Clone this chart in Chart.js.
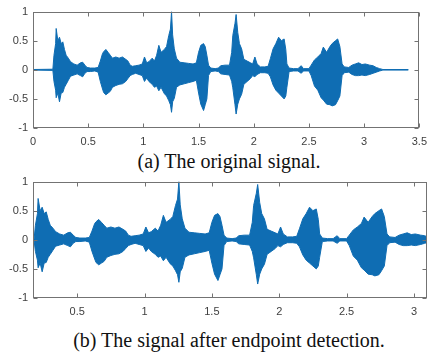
<!DOCTYPE html>
<html>
<head>
<meta charset="utf-8">
<script src="https://cdn.jsdelivr.net/npm/chart.js@4.4.1/dist/chart.umd.min.js"></script>
<style>
  html, body { margin:0; padding:0; background:#ffffff; }
  body { width:434px; height:354px; position:relative; overflow:hidden; }
  canvas { position:absolute; left:0; }
  .cap { position:absolute; left:0; width:458px; text-align:center;
         font-family:"Liberation Serif","Times New Roman",serif; font-size:20px; color:#111; line-height:22px; white-space:nowrap; }
</style>
</head>
<body>
<canvas id="c1" width="434" height="150" style="top:0px"></canvas>
<div class="cap" style="top:150px">(a) The original signal.</div>
<canvas id="c2" width="434" height="150" style="top:170px"></canvas>
<div class="cap" style="top:329px">(b) The signal after endpoint detection.</div>
<script>
// Time (s) of envelope samples
const times = [0, 0.18, 0.19, 0.205, 0.21, 0.225, 0.24, 0.255, 0.27, 0.285, 0.30, 0.32, 0.34, 0.37, 0.40, 0.43, 0.45, 0.47, 0.49, 0.52, 0.56, 0.59,
  0.61, 0.63, 0.64, 0.66, 0.68, 0.70, 0.72, 0.75, 0.78, 0.81, 0.84, 0.86, 0.88, 0.90, 0.93, 0.96, 0.99,
  1.01, 1.03, 1.05, 1.08, 1.10, 1.12, 1.14, 1.16, 1.19, 1.21, 1.23, 1.245, 1.255, 1.265, 1.28, 1.30, 1.33, 1.37, 1.41, 1.45, 1.48,
  1.50, 1.52, 1.545, 1.56, 1.575, 1.59, 1.61, 1.65, 1.68, 1.70, 1.74, 1.78, 1.80, 1.81, 1.83, 1.84, 1.855, 1.87, 1.89, 1.91, 1.94, 1.97, 1.99,
  2.01, 2.03, 2.06, 2.10, 2.13, 2.15, 2.175, 2.20, 2.225, 2.25, 2.275, 2.29, 2.30, 2.32, 2.36, 2.40, 2.43, 2.45, 2.50,
  2.52, 2.55, 2.58, 2.61, 2.63, 2.66, 2.69, 2.71, 2.74, 2.76, 2.78, 2.80, 2.82, 2.86, 2.89, 2.92, 2.95, 2.98,
  3.01, 3.05, 3.08, 3.11, 3.14, 3.17, 3.40];
// Upper envelope of the waveform
const upper = [0.005, 0.01, 0.25, 0.45, 0.71, 0.5, 0.56, 0.45, 0.48, 0.35, 0.25, 0.2, 0.14, 0.1, 0.08, 0.12, 0.13, 0.08, 0.04, 0.03, 0.03, 0.04,
  0.15, 0.28, 0.31, 0.35, 0.3, 0.25, 0.2, 0.22, 0.2, 0.22, 0.18, 0.15, 0.08, 0.06, 0.07, 0.08, 0.1,
  0.22, 0.12, 0.14, 0.2, 0.15, 0.25, 0.42, 0.3, 0.35, 0.4, 0.59, 0.7, 1.0, 0.6, 0.36, 0.2, 0.13, 0.12, 0.11, 0.1, 0.12,
  0.3, 0.42, 0.45, 0.4, 0.25, 0.08, 0.03, 0.02, 0.03, 0.07, 0.08, 0.08, 0.3, 0.59, 0.8, 0.95, 0.64, 0.45, 0.36, 0.18, 0.15, 0.12, 0.1,
  0.22, 0.1, 0.05, 0.05, 0.06, 0.19, 0.36, 0.45, 0.56, 0.5, 0.53, 0.35, 0.1, 0.03, 0.02, 0.02, 0.07, 0.02, 0.02,
  0.08, 0.17, 0.22, 0.28, 0.39, 0.3, 0.4, 0.45, 0.5, 0.53, 0.4, 0.1, 0.05, 0.04, 0.08, 0.1, 0.12, 0.09,
  0.1, 0.08, 0.07, 0.04, 0.02, 0.005, 0.005];
// Lower envelope of the waveform
const lower = [-0.005, -0.01, -0.2, -0.35, -0.48, -0.4, -0.55, -0.4, -0.39, -0.3, -0.25, -0.18, -0.11, -0.09, -0.07, -0.1, -0.12, -0.06, -0.03, -0.03, -0.02, -0.04,
  -0.2, -0.33, -0.39, -0.43, -0.4, -0.37, -0.3, -0.27, -0.25, -0.24, -0.2, -0.15, -0.1, -0.08, -0.06, -0.08, -0.1,
  -0.2, -0.14, -0.2, -0.25, -0.3, -0.28, -0.36, -0.3, -0.41, -0.45, -0.53, -0.6, -0.73, -0.55, -0.49, -0.3, -0.26, -0.24, -0.22, -0.2, -0.18,
  -0.4, -0.59, -0.7, -0.6, -0.5, -0.1, -0.03, -0.02, -0.03, -0.07, -0.08, -0.09, -0.2, -0.31, -0.6, -0.76, -0.59, -0.5, -0.42, -0.25, -0.2, -0.15, -0.1,
  -0.12, -0.08, -0.05, -0.05, -0.06, -0.12, -0.26, -0.35, -0.4, -0.45, -0.5, -0.45, -0.3, -0.03, -0.02, -0.02, -0.06, -0.02, -0.02,
  -0.1, -0.28, -0.35, -0.48, -0.52, -0.59, -0.6, -0.62, -0.6, -0.53, -0.45, -0.1, -0.05, -0.04, -0.08, -0.1, -0.1, -0.09,
  -0.1, -0.08, -0.06, -0.04, -0.02, -0.005, -0.005];

const yTicks = [-1, -0.5, 0, 0.5, 1];
const xTicksTop = [0, 0.5, 1, 1.5, 2, 2.5, 3, 3.5];
const xTicksBottom = [0.5, 1, 1.5, 2, 2.5, 3];
const xRangeTop = [0, 3.5];
const xRangeBottom = [0.172, 3.097];

const COLOR = '#0f6db3';

const boxTicks = {
  id: 'boxTicks',
  afterDraw(chart) {
    const ctx = chart.ctx, a = chart.chartArea;
    const xs = chart.scales.x, ys = chart.scales.y;
    ctx.save();
    ctx.strokeStyle = '#737373';
    ctx.lineWidth = 1;
    const L = Math.round(a.left) + 0.5, R = Math.round(a.right) - 0.5;
    const T = Math.round(a.top) + 0.5, B = Math.round(a.bottom) - 0.5;
    ctx.strokeRect(L, T, R - L, B - T);
    ctx.beginPath();
    xs.ticks.forEach(t => {
      const p = Math.round(xs.getPixelForValue(t.value)) + 0.5;
      ctx.moveTo(p, B); ctx.lineTo(p, B - 4);
      ctx.moveTo(p, T); ctx.lineTo(p, T + 4);
    });
    ys.ticks.forEach(t => {
      const p = Math.round(ys.getPixelForValue(t.value)) + 0.5;
      ctx.moveTo(L, p); ctx.lineTo(L + 4, p);
      ctx.moveTo(R, p); ctx.lineTo(R - 4, p);
    });
    ctx.stroke();
    ctx.restore();
  }
};

function makeChart(id, xRange, xTicks, padRight) {
  const up = times.map((t, i) => ({ x: t, y: upper[i] }));
  const lo = times.map((t, i) => ({ x: t, y: lower[i] }));
  return new Chart(document.getElementById(id), {
    type: 'line',
    data: {
      datasets: [
        { data: up, borderColor: COLOR, borderWidth: 1, pointRadius: 0, fill: false, tension: 0 },
        { data: lo, borderColor: COLOR, borderWidth: 1, pointRadius: 0, fill: '-1', backgroundColor: COLOR, tension: 0 }
      ]
    },
    options: {
      responsive: false,
      animation: false,
      layout: { padding: { left: 0, top: 9, right: padRight, bottom: 0 } },
      plugins: { legend: { display: false }, tooltip: { enabled: false } },
      scales: {
        x: {
          type: 'linear', min: xRange[0], max: xRange[1],
          afterBuildTicks: s => { s.ticks = xTicks.map(v => ({ value: v })); },
          afterFit: s => { s.height = 22; },
          grid: { display: false, drawTicks: false },
          border: { display: false },
          ticks: { padding: 7, color: '#404040', font: { family: 'Liberation Sans, Arial, sans-serif', size: 11 },
                   callback: v => String(v), maxRotation: 0, autoSkip: false }
        },
        y: {
          min: -1, max: 1,
          afterBuildTicks: s => { s.ticks = yTicks.map(v => ({ value: v })); },
          afterFit: s => { s.width = 33; },
          grid: { display: false, drawTicks: false },
          border: { display: false },
          ticks: { padding: 5, color: '#404040', font: { family: 'Liberation Sans, Arial, sans-serif', size: 11 },
                   callback: v => String(v) }
        }
      }
    },
    plugins: [boxTicks]
  });
}

makeChart('c1', xRangeTop, xTicksTop, 8);
makeChart('c2', xRangeBottom, xTicksBottom, 7);
</script>
</body>
</html>
